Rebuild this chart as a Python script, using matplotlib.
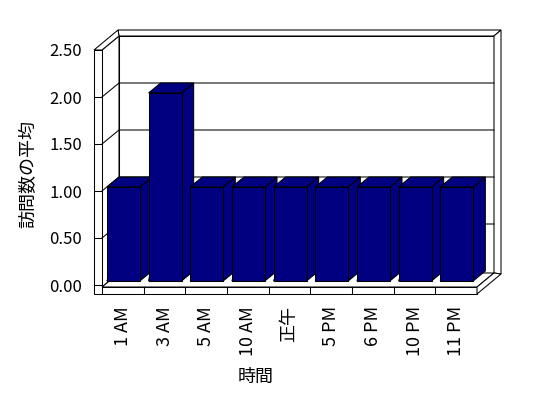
import matplotlib
matplotlib.use("Agg")
import matplotlib.pyplot as plt
from matplotlib.patches import Polygon

plt.rcParams['font.family'] = ['Noto Sans CJK JP', 'DejaVu Sans']

# data
categories = ['1 AM', '3 AM', '5 AM', '10 AM', '正午', '5 PM', '6 PM', '10 PM', '11 PM']
values = [1.0, 2.0, 1.0, 1.0, 1.0, 1.0, 1.0, 1.0, 1.0]
yticks = [0.0, 0.5, 1.0, 1.5, 2.0, 2.5]
ylabel = '訪問数の平均'
xlabel = '時間'

BAR_COLOR = '#000080'
LW = 0.75

# pseudo-3d geometry (pixel sizes turned into data units)
n = len(categories)
ymax = yticks[-1]
CW = 375 / n          # px per category
VU = 235 / ymax       # px per value unit
DX, DY = 17 / CW, 14 / VU     # depth of the walls
TX, TY = 7 / CW, 6 / VU       # wall thickness going back
W = 8 / CW                    # left wall thickness
FT, FB = -2 / VU, -9 / VU     # floor top / bottom
F0, F1 = 0.29, 1.0            # bar front / back depth
BW = 33 / CW                  # bar width

fig = plt.figure(figsize=(5.48, 3.98), dpi=100)
ax = fig.add_axes([102 / 548, 113 / 398, 375 / 548, 235 / 398])
ax.set_xlim(0, n)
ax.set_ylim(0, ymax)
for s in ax.spines.values():
    s.set_visible(False)


def poly(pts, fc='white', z=1):
    ax.add_patch(Polygon(pts, closed=True, facecolor=fc, edgecolor='black',
                         lw=LW, clip_on=False, zorder=z))


# back wall face + top + right side
poly([(DX, FT + DY), (n + DX, FT + DY), (n + DX, ymax + DY), (DX, ymax + DY)], z=1)
poly([(DX, ymax + DY), (n + DX, ymax + DY), (n + DX + TX, ymax + DY + TY),
      (-W + DX + TX, ymax + DY + TY)], z=1)
poly([(n + DX, FT + DY), (n + DX, ymax + DY), (n + DX + TX, ymax + DY + TY),
      (n + DX + TX, FB + DY + TY)], z=1)

# left wall: inner face, front face, top
poly([(0, FT), (0, ymax), (DX, ymax + DY), (DX, FT + DY)], z=1)
poly([(-W, FB), (0, FB), (0, ymax), (-W, ymax)], z=1)
poly([(-W, ymax), (0, ymax), (DX, ymax + DY), (-W + DX + TX, ymax + DY + TY)], z=1)

# floor: top, front, right side
poly([(0, FT), (n, FT), (n + DX, FT + DY), (DX, FT + DY)], z=1)
poly([(0, FB), (n, FB), (n, FT), (0, FT)], z=1)
poly([(n, FT), (n, FB), (n + DX + TX, FB + DY + TY), (n + DX, FT + DY)], z=1)

# gridlines: stub on front of left wall, diagonal on inner wall, line on back wall
for v in yticks[:-1]:
    ax.plot([-W, 0], [v, v], color='black', lw=LW, clip_on=False, zorder=2)
    if v > 0:
        ax.plot([0, DX, n + DX], [v, v + DY, v + DY], color='black', lw=LW,
                clip_on=False, zorder=2)

# category separators on the floor front
for i in range(1, n):
    ax.plot([i, i], [FB, FT], color='black', lw=LW, clip_on=False, zorder=2)

# bars, drawn left to right so each front face hides the previous side
for i, v in enumerate(values):
    x0 = i + F0 * DX
    y0 = F0 * DY
    x1, y1 = i + F1 * DX, F1 * DY
    z = 3 + i
    poly([(x0, y0), (x0 + BW, y0), (x1 + BW, y1), (x1 + BW, y1 + v), (x0 + BW, y0 + v)],
         fc=BAR_COLOR, z=z)
    poly([(x0, y0 + v), (x0 + BW, y0 + v), (x1 + BW, y1 + v), (x1, y1 + v)],
         fc=BAR_COLOR, z=z)
    poly([(x0, y0), (x0 + BW, y0), (x0 + BW, y0 + v), (x0, y0 + v)],
         fc=BAR_COLOR, z=z)

ax.set_yticks(yticks)
ax.set_yticklabels([f'{t:.2f}' for t in yticks], fontsize=12)
ax.set_xticks([i + 0.5 for i in range(n)])
ax.set_xticklabels(categories, rotation=90, fontsize=13)
ax.tick_params(axis='y', length=0, pad=14.4)
ax.tick_params(axis='x', length=0, pad=15)

ax.set_ylabel(ylabel, fontsize=13)
ax.yaxis.set_label_coords(-0.173, 0.472)
ax.set_xlabel(xlabel, fontsize=13)
ax.xaxis.set_label_coords(0.41, -0.355)

fig.savefig('out.png', dpi=100)
